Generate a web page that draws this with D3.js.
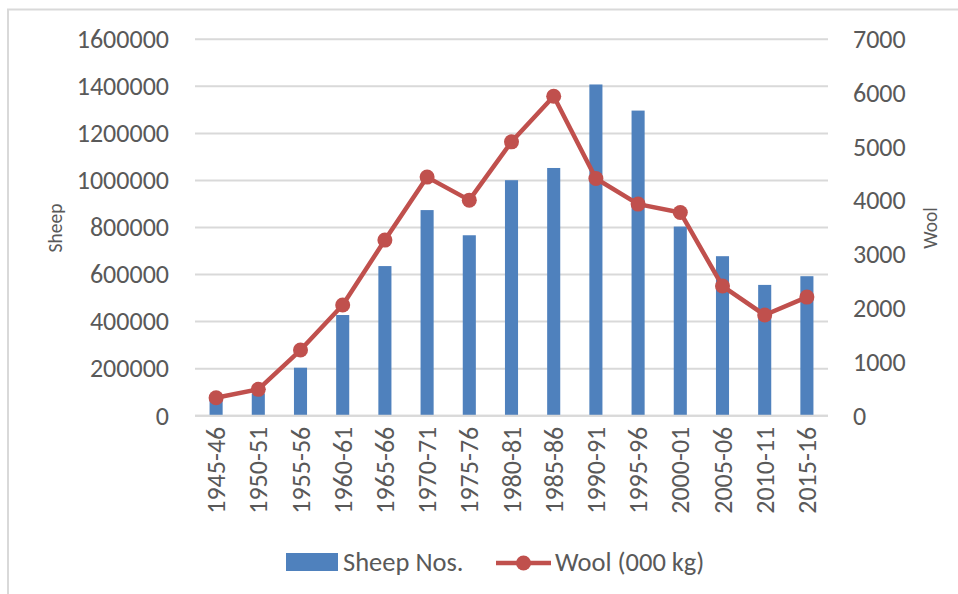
<!DOCTYPE html>
<html>
<head>
<meta charset="utf-8">
<script src="https://cdn.jsdelivr.net/npm/d3@7"></script>
<style>
  html, body { margin: 0; padding: 0; background: #fff; }
  svg { display: block; }
  text { font-family: Carlito, Lato, "Open Sans", sans-serif; fill: #595959; }
</style>
</head>
<body>
<svg id="chart" width="958" height="594"></svg>
<script>
// Sheep numbers and wool production by period
const periods = ["1945-46","1950-51","1955-56","1960-61","1965-66","1970-71","1975-76","1980-81",
                 "1985-86","1990-91","1995-96","2000-01","2005-06","2010-11","2015-16"];
const sheepNos = [75000, 95000, 204000, 428000, 636000, 874000, 767000, 1001000,
                  1053000, 1408000, 1297000, 804000, 678000, 556000, 593000];
const woolKg = [335, 490, 1221, 2058, 3266, 4437, 4009, 5093,
                5942, 4412, 3935, 3780, 2411, 1872, 2206];
const sheepTicks = [0, 200000, 400000, 600000, 800000, 1000000, 1200000, 1400000, 1600000];
const woolTicks = [0, 1000, 2000, 3000, 4000, 5000, 6000, 7000];

const svg = d3.select("#chart");
const W = 958, H = 594;
const plot = { left: 195, right: 828, top: 39.3, bottom: 415.7 };
const fontStack = "Carlito, Lato, 'Open Sans', sans-serif";
const tickSize = "26px";

const barColor = "#4F81BD";
const lineColor = "#C0504D";
const gridColor = "#D9D9D9";

// chart frame
svg.append("path")
  .attr("d", `M8,${H + 2} L8,9.5 L${W + 2},9.5`)
  .attr("fill", "none")
  .attr("stroke", gridColor)
  .attr("stroke-width", 2);

const x = d3.scaleBand().domain(periods).range([plot.left, plot.right]).paddingInner(0.69).paddingOuter(0.345);
const yL = d3.scaleLinear().domain([0, 1600000]).range([plot.bottom, plot.top]);
const yR = d3.scaleLinear().domain([0, 7000]).range([plot.bottom, plot.top]);

// horizontal gridlines
svg.append("g")
  .selectAll("line")
  .data(sheepTicks)
  .join("line")
  .attr("x1", plot.left).attr("x2", plot.right)
  .attr("y1", d => yL(d)).attr("y2", d => yL(d))
  .attr("stroke", gridColor).attr("stroke-width", 2);

// left axis (sheep numbers)
const leftAxis = svg.append("g")
  .attr("transform", `translate(${plot.left},0)`)
  .call(d3.axisLeft(yL).tickValues(sheepTicks).tickFormat(d3.format("d")).tickSize(0).tickPadding(26));
leftAxis.select(".domain").remove();
leftAxis.selectAll("text").style("font-size", tickSize).attr("fill", "#595959")
  .style("font-family", fontStack);

// right axis (wool)
const rightAxis = svg.append("g")
  .attr("transform", `translate(${plot.right},0)`)
  .call(d3.axisRight(yR).tickValues(woolTicks).tickFormat(d3.format("d")).tickSize(0).tickPadding(25));
rightAxis.select(".domain").remove();
rightAxis.selectAll("text").style("font-size", tickSize).attr("fill", "#595959")
  .style("font-family", fontStack);

// bottom axis with rotated period labels
const bottomAxis = svg.append("g")
  .attr("transform", `translate(0,${plot.bottom})`)
  .call(d3.axisBottom(x).tickSize(0));
bottomAxis.select(".domain").remove();
bottomAxis.selectAll("text")
  .style("font-size", tickSize).attr("fill", "#595959")
  .style("font-family", fontStack)
  .attr("text-anchor", "end")
  .attr("dy", null)
  .attr("y", 0)
  .attr("transform", "translate(0,11) rotate(-90) translate(0,9)");

// bars
svg.append("g")
  .selectAll("rect")
  .data(periods)
  .join("rect")
  .attr("x", d => x(d))
  .attr("width", x.bandwidth())
  .attr("y", (d, i) => yL(sheepNos[i]))
  .attr("height", (d, i) => yL(0) - yL(sheepNos[i]))
  .attr("fill", barColor);

// baseline over bars
svg.append("line")
  .attr("x1", plot.left).attr("x2", plot.right)
  .attr("y1", yL(0)).attr("y2", yL(0))
  .attr("stroke", gridColor).attr("stroke-width", 2);

// wool line
const cx = d => x(d) + x.bandwidth() / 2;
const line = d3.line().x((d, i) => cx(periods[i])).y(d => yR(d));
svg.append("path")
  .datum(woolKg)
  .attr("d", line)
  .attr("fill", "none")
  .attr("stroke", lineColor)
  .attr("stroke-width", 4.5)
  .attr("stroke-linejoin", "round");
svg.append("g")
  .selectAll("circle")
  .data(woolKg)
  .join("circle")
  .attr("cx", (d, i) => cx(periods[i]))
  .attr("cy", d => yR(d))
  .attr("r", 7.5)
  .attr("fill", lineColor);

// axis titles
svg.append("text")
  .attr("transform", `translate(62,228) rotate(-90)`)
  .attr("text-anchor", "middle")
  .style("font-size", "19.5px")
  .text("Sheep");
svg.append("text")
  .attr("transform", `translate(937,228) rotate(-90)`)
  .attr("text-anchor", "middle")
  .style("font-size", "19.5px")
  .text("Wool");

// legend
const legend = svg.append("g");
legend.append("rect")
  .attr("x", 286).attr("y", 553).attr("width", 52).attr("height", 18)
  .attr("fill", barColor);
legend.append("text")
  .attr("x", 343).attr("y", 571)
  .style("font-size", "26.5px")
  .text("Sheep Nos.");
legend.append("line")
  .attr("x1", 496).attr("x2", 551).attr("y1", 563).attr("y2", 563)
  .attr("stroke", lineColor).attr("stroke-width", 4.5);
legend.append("circle")
  .attr("cx", 523.5).attr("cy", 563).attr("r", 7.5)
  .attr("fill", lineColor);
legend.append("text")
  .attr("x", 555).attr("y", 571)
  .style("font-size", "26.5px")
  .text("Wool (000 kg)");
</script>
</body>
</html>
